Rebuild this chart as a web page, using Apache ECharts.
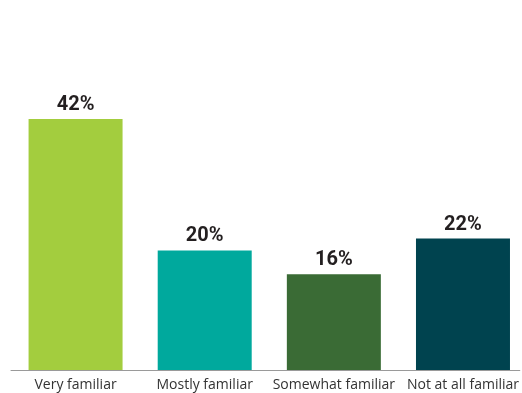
<!DOCTYPE html>
<html>
<head>
<meta charset="utf-8">
<script src="https://cdn.jsdelivr.net/npm/echarts@6/dist/echarts.min.js"></script>
<style>
  html, body { margin: 0; padding: 0; background: #fff; }
  #chart { width: 522px; height: 393px; }
</style>
</head>
<body>
<div id="chart"></div>
<script>
// Familiarity survey: share of respondents per answer
const categories = ['Very familiar', 'Mostly familiar', 'Somewhat familiar', 'Not at all familiar'];
const shares = [42, 20, 16, 22];
const barColors = ['#a3cd3e', '#00a99d', '#3a6b35', '#00434f'];
const slots = [0, 1, 2, 3];

const chart = echarts.init(document.getElementById('chart'), null, { renderer: 'canvas' });

chart.setOption({
  animation: false,
  grid: { left: 11, right: 0, top: 11.4, bottom: 23, containLabel: false },
  xAxis: {
    type: 'value',
    min: -0.5,
    max: 3.44,
    axisLine: { show: true, onZero: false, lineStyle: { color: '#9a9a9a', width: 1 } },
    axisTick: { show: false },
    splitLine: { show: false },
    axisLabel: {
      customValues: slots,
      formatter: v => categories[Math.round(v)] || '',
      color: '#333333',
      fontFamily: 'Open Sans',
      fontSize: 14,
      margin: 8,
      showMinLabel: true,
      showMaxLabel: true
    }
  },
  yAxis: {
    type: 'value',
    min: 0,
    max: 60,
    show: false,
    splitLine: { show: false }
  },
  series: [{
    type: 'bar',
    barWidth: 94,
    data: shares.map((v, i) => ({ value: [slots[i], v], itemStyle: { color: barColors[i] } })),
    label: {
      show: true,
      position: 'top',
      distance: 4,
      formatter: p => p.value[1] + '%',
      color: '#231f20',
      fontFamily: 'Roboto',
      fontWeight: 'bold',
      fontSize: 20
    }
  }]
});
</script>
</body>
</html>
